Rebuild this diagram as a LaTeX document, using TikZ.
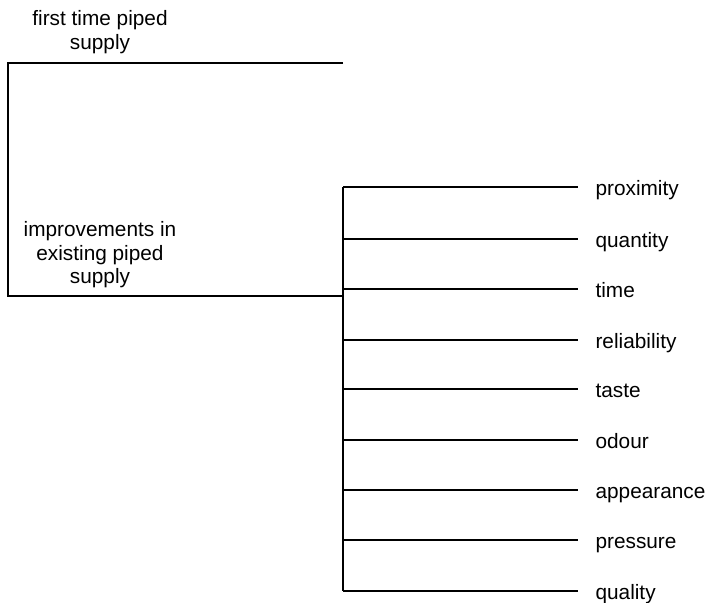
\documentclass[tikz,border=0pt]{standalone}
\usepackage{fontspec}
\setmainfont{Liberation Sans}
\begin{document}
\begin{tikzpicture}[x=1pt,y=-1pt,line width=1.1pt,
  every node/.style={font=\fontsize{20.8}{23.5}\selectfont},
  head/.style={align=center,inner sep=0pt},
  leaf/.style={anchor=west,inner xsep=17pt,inner ysep=0pt,text height=20pt,text depth=4pt}]
\useasboundingbox (0,0) rectangle (708,602);

% headings on the left
\node[head] (first) at (100,32) {first time piped\\supply};
\node[head] (impr) at (100,255) {improvements in\\existing piped\\supply};

% bracket joining the two headings
\coordinate (topL) at (8,63);
\coordinate (topR) at (343,63);
\coordinate (botL) at (8,296);
\coordinate (botR) at (343,296);
\draw (topR) -- (topL) -- (botL) -- (botR);

% spine with its branches
\foreach \t/\y [count=\i from 0] in {proximity/187,quantity/239,time/289,reliability/340,taste/389,odour/440,appearance/490,pressure/540,quality/591} {
  \coordinate (s\i) at (343,\y);
  \node[leaf] (l\i) at (578,\y) {\t};
  \draw (s\i) -- (l\i.west);
}
\draw (s0) -- (s8);
\end{tikzpicture}
\end{document}
